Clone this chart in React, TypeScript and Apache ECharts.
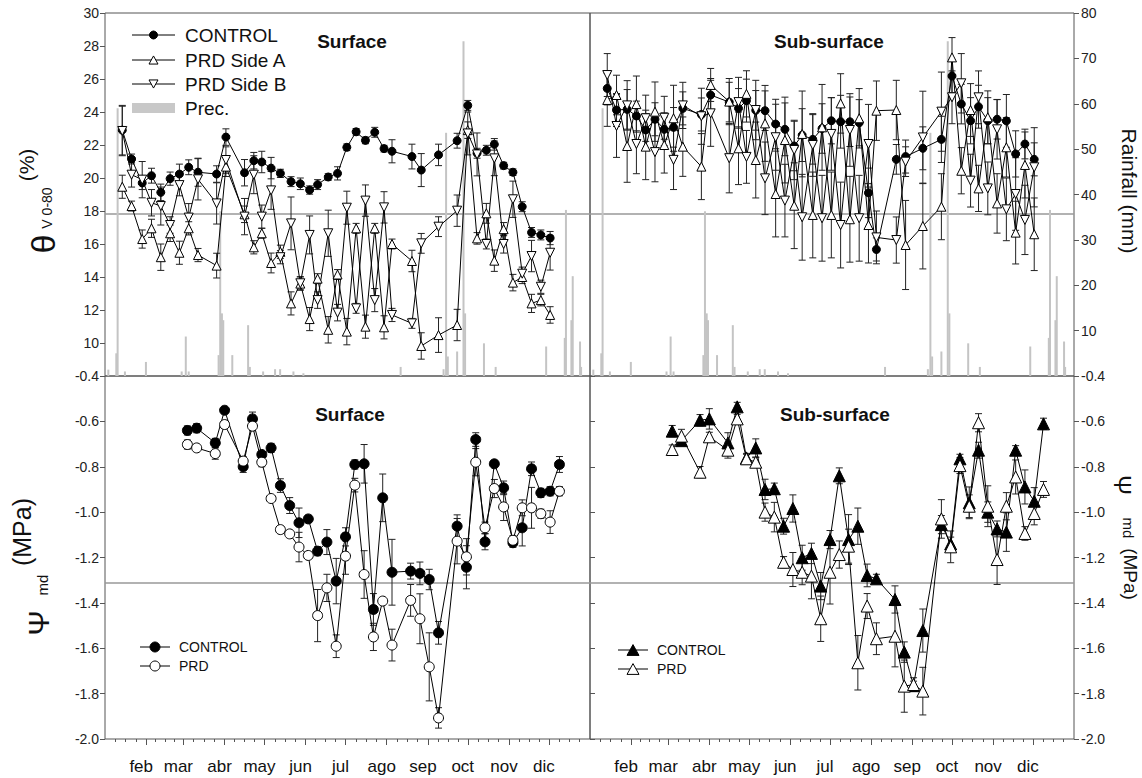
import React, { useEffect, useRef } from 'react';
import * as echarts from 'echarts';

// Month axis (day of year)
const months = ['feb', 'mar', 'abr', 'may', 'jun', 'jul', 'ago', 'sep', 'oct', 'nov', 'dic'];
const monthStarts = [31, 59, 90, 120, 151, 181, 212, 243, 273, 304, 334];

// Soil water content sampling dates (day of year)
const soilDays = [13, 20, 28, 35, 42, 49, 56, 63, 70, 84, 91, 105, 112, 118, 125, 132, 140, 147, 154, 160, 168, 175, 182, 189, 196, 203, 210, 216, 231, 238, 251, 265, 273, 280, 287, 293, 300, 307, 314, 321, 328, 335];

// Surface θv 0-80 (%)
const surfControl = [22.9, 21.15, 19.7, 20.14, 19.13, 19.96, 20.24, 20.65, 20.35, 20.24, 22.48, 20.32, 21.05, 20.97, 20.6, 20.28, 19.78, 19.65, 19.27, 19.6, 20.06, 20.28, 21.86, 22.8, 22.28, 22.77, 21.78, 21.62, 21.3, 20.48, 21.4, 22.26, 24.4, 21.5, 21.68, 22.04, 20.75, 20.35, 18.26, 16.7, 16.55, 16.36];
const surfControlErr = [1.5, 0.3, 0.4, 0.45, 0.5, 0.4, 0.6, 0.45, 0.85, 0.5, 0.5, 0.8, 0.5, 0.65, 0.65, 0.25, 0.3, 0.35, 0.25, 0.3, 0.2, 0.4, 0.2, 0.2, 0.2, 0.3, 0.2, 0.7, 0.75, 1.0, 0.65, 0.45, 0.3, 0.3, 0.3, 0.35, 0.2, 0.2, 0.3, 0.3, 0.3, 0.4];
const surfSideA = [19.47, 18.3, 16.3, 16.95, 15.2, 16.65, 15.47, 16.95, 15.33, 14.69, 20.69, 17.8, 15.8, 16.65, 14.85, 15.53, 12.4, 13.6, 11.45, 13.9, 10.8, 14.15, 10.69, 16.95, 10.99, 16.95, 10.95, 16.0, 14.97, 9.82, 10.48, 11.09, 22.9, 16.34, 17.86, 14.99, 16.9, 13.66, 14.0, 12.4, 12.6, 11.7];
const surfSideAErr = [0.7, 0.3, 0.55, 0.55, 0.8, 0.5, 0.7, 0.4, 0.4, 0.75, 0.6, 0.5, 0.4, 0.3, 0.6, 0.4, 0.7, 0.4, 0.7, 0.3, 0.8, 0.3, 0.8, 0.3, 0.7, 0.3, 0.7, 0.3, 0.65, 0.8, 1.05, 0.95, 0.5, 0.35, 0.6, 0.65, 0.4, 0.5, 0.4, 0.55, 0.35, 0.5];
const surfSideB = [22.85, 20.2, 19.9, 18.5, 18.3, 17.15, 19.57, 17.6, 19.92, 18.46, 21.09, 17.66, 20.2, 17.66, 19.25, 15.2, 17.25, 13.62, 16.55, 12.6, 16.65, 11.84, 18.2, 12.1, 18.63, 12.6, 18.22, 11.7, 11.19, 16.04, 17.05, 18.02, 22.7, 21.43, 16.0, 21.19, 16.0, 18.71, 14.2, 15.27, 13.41, 15.47];
const surfSideBErr = [1.5, 0.75, 1.1, 0.8, 1.15, 0.5, 0.65, 0.85, 1.25, 1.25, 0.8, 1.1, 1.15, 0.7, 1.15, 0.4, 1.6, 0.4, 1.15, 0.5, 1.4, 0.5, 1.0, 0.3, 0.95, 0.7, 0.95, 0.4, 0.3, 0.6, 0.6, 0.95, 1.3, 1.3, 0.3, 1.05, 0.55, 1.1, 0.4, 0.95, 0.4, 1.05];

// Sub-surface θv 0-80 (%)
const subControl = [25.43, 24.12, 24.16, 23.76, 22.91, 23.56, 22.95, 23.07, 24.22, 23.85, 25.03, 24.6, 24.22, 24.69, 24.1, 24.08, 23.27, 22.95, 21.94, 22.6, 22.34, 23.0, 23.47, 23.41, 23.41, 23.35, 19.1, 15.67, 21.13, 21.3, 21.8, 22.34, 26.18, 24.48, 23.47, 24.32, 23.47, 23.56, 23.46, 21.46, 22.06, 21.13];
const subControlErr = [1.0, 1.0, 1.2, 0.9, 1.2, 1.0, 1.0, 1.2, 1.0, 1.0, 1.0, 1.2, 1.2, 1.3, 1.2, 1.2, 1.5, 1.6, 1.5, 1.6, 1.5, 1.5, 1.4, 1.6, 1.5, 1.4, 1.5, 0.7, 0.9, 1.0, 1.3, 1.4, 1.0, 1.2, 1.4, 1.3, 1.4, 1.2, 1.6, 1.4, 0.9, 1.0];
const subSideA = [24.73, 25.03, 21.94, 24.48, 21.9, 24.02, 22.0, 23.62, 21.9, 20.69, 25.64, 24.63, 21.8, 25.1, 21.09, 23.31, 19.03, 22.3, 18.32, 22.67, 17.76, 23.07, 17.76, 24.52, 17.5, 23.62, 17.15, 24.08, 24.12, 15.94, 17.09, 18.26, 27.31, 20.44, 24.12, 19.37, 23.68, 18.46, 21.86, 16.69, 20.79, 16.59];
const subSideAErr = [1.6, 1.2, 2.2, 1.7, 2.0, 1.8, 1.7, 2.0, 1.8, 2.0, 1.0, 1.4, 2.2, 1.4, 2.3, 2.3, 2.6, 2.6, 2.6, 2.6, 2.6, 2.6, 2.6, 1.8, 2.6, 1.8, 2.3, 1.8, 1.8, 2.7, 2.6, 2.0, 1.2, 1.4, 1.6, 1.4, 1.6, 1.8, 1.8, 1.9, 2.0, 2.2];
const subSideB = [26.24, 23.15, 24.4, 22.06, 23.62, 21.57, 23.65, 21.1, 24.4, 23.74, 23.92, 21.2, 24.6, 21.28, 24.12, 19.98, 22.47, 18.63, 21.7, 17.62, 22.0, 17.56, 22.67, 17.15, 22.91, 17.56, 22.06, 16.4, 16.24, 20.99, 22.46, 24.02, 24.89, 25.74, 19.84, 24.89, 19.37, 22.95, 18.1, 19.03, 17.46, 20.65];
const subSideBErr = [1.3, 1.9, 1.5, 1.8, 1.4, 1.8, 1.3, 1.8, 1.4, 1.7, 2.0, 2.1, 1.5, 1.6, 1.8, 2.2, 2.0, 2.2, 1.8, 2.6, 1.9, 2.6, 2.2, 2.6, 2.2, 2.6, 2.4, 1.6, 1.4, 0.9, 2.8, 2.4, 1.6, 1.8, 1.6, 1.6, 1.6, 1.8, 1.9, 2.2, 2.1, 2.4];

// Daily rainfall (mm)
const rainDays = [2.5, 8.5, 9.5, 15, 30.8, 57.7, 60.8, 63, 85.5, 86.7, 88, 89, 95.8, 107.7, 109, 119, 128, 131.8, 141.8, 149.3, 222.5, 254.8, 256.7, 258, 265, 269.8, 271, 285.2, 294, 332, 346, 346.9, 351, 352, 357.5, 358.3];
const rainMm = [1.4, 5, 59, 1, 3.1, 1, 8.7, 1, 4.6, 36.3, 13.8, 12.3, 4.6, 11.2, 2, 1, 1.5, 1.5, 1, 0.6, 2, 1.5, 53.6, 4.3, 5.4, 73.8, 13.8, 7.2, 2, 6.5, 8.4, 36.6, 12.3, 22, 7.6, 2];

// Midday stem water potential sampling dates (day of year)
const psiDays = [62, 69, 83, 90, 104, 111, 118, 125, 132, 139, 146, 153, 160, 167, 174, 181, 188, 195, 202, 209, 216, 230, 237, 244, 251, 265, 272, 279, 286, 293, 300, 307, 314, 321, 328, 335, 342];

// Ψmd (MPa), surface
const psiSurfControl = [-0.640, -0.630, -0.695, -0.551, -0.800, -0.589, -0.746, -0.717, -0.883, -0.971, -1.047, -1.03, -1.172, -1.132, -1.304, -1.109, -0.790, -0.787, -1.429, -0.937, -1.265, -1.26, -1.27, -1.297, -1.532, -1.062, -1.243, -0.680, -1.131, -0.787, -0.893, -1.135, -1.069, -0.809, -0.915, -0.908, -0.790];
const psiSurfControlErr = [0.02, 0.02, 0.02, 0.01, 0.025, 0.03, 0.01, 0.02, 0.03, 0.035, 0.065, 0.01, 0.02, 0.055, 0.1, 0.04, 0.02, 0.085, 0.07, 0.105, 0.145, 0.035, 0.05, 0.045, 0.05, 0.05, 0.095, 0.03, 0.035, 0.01, 0.03, 0.02, 0.08, 0.03, 0.02, 0.02, 0.035];
const psiSurfPrd = [-0.702, -0.717, -0.742, -0.614, -0.775, -0.621, -0.780, -0.940, -1.077, -1.096, -1.154, -1.191, -1.456, -1.334, -1.591, -1.194, -0.881, -1.275, -1.550, -1.392, -1.586, -1.389, -1.47, -1.682, -1.907, -1.128, -1.197, -0.780, -1.069, -0.896, -0.977, -1.124, -0.981, -0.981, -1.007, -1.044, -0.908];
const psiSurfPrdErr = [0.02, 0.01, 0.025, 0.01, 0.02, 0.02, 0.02, 0.01, 0.01, 0.01, 0.065, 0.01, 0.115, 0.06, 0.05, 0.08, 0.03, 0.105, 0.06, 0.01, 0.07, 0.07, 0.11, 0.15, 0.045, 0.1, 0.08, 0.06, 0.025, 0.04, 0.06, 0.02, 0.035, 0.09, 0.02, 0.05, 0.02];

// Ψmd (MPa), sub-surface
const psiSubControl = [-0.643, -0.685, -0.595, -0.589, -0.695, -0.536, -0.761, -0.717, -0.900, -0.897, -1.062, -0.984, -1.201, -1.182, -1.326, -1.121, -0.840, -1.121, -1.062, -1.279, -1.294, -1.385, -1.617, -1.765, -1.522, -1.055, -1.14, -0.765, -0.959, -0.727, -1.0, -1.074, -1.088, -0.727, -0.889, -0.952, -0.611];
const psiSubControlErr = [0.025, 0.015, 0.025, 0.045, 0.045, 0.02, 0.02, 0.04, 0.045, 0.025, 0.035, 0.06, 0.055, 0.045, 0.06, 0.04, 0.035, 0.11, 0.08, 0.05, 0.02, 0.06, 0.045, 0.02, 0.095, 0.04, 0.03, 0.02, 0.07, 0.035, 0.045, 0.035, 0.085, 0.02, 0.075, 0.06, 0.025];
const psiSubPrd = [-0.724, -0.665, -0.824, -0.668, -0.727, -0.589, -0.765, -0.780, -1.0, -1.022, -1.221, -1.253, -1.265, -1.282, -1.47, -1.265, -1.187, -1.15, -1.664, -1.414, -1.558, -1.547, -1.767, -1.76, -1.789, -1.03, -1.153, -0.795, -0.974, -0.606, -0.974, -1.209, -0.974, -0.845, -1.094, -1.006, -0.9];
const psiSubPrdErr = [0.02, 0.03, 0.025, 0.02, 0.035, 0.02, 0.02, 0.02, 0.04, 0.065, 0.025, 0.075, 0.055, 0.1, 0.1, 0.14, 0.06, 0.075, 0.12, 0.055, 0.07, 0.135, 0.115, 0.03, 0.105, 0.085, 0.07, 0.035, 0.05, 0.04, 0.09, 0.11, 0.06, 0.075, 0.03, 0.05, 0.035];

// Horizontal reference levels
const THETA_REF = 17.85;
const PSI_REF = -1.31;

const FONT = '"Liberation Sans", Arial, sans-serif';
const AXIS_COLOR = '#555';

// quarter-month minor ticks
const monthBounds = [0, ...monthStarts, 365];
const minorTicks: number[] = [];
for (let i = 0; i < monthBounds.length - 1; i++) {
  const a = monthBounds[i];
  const b = monthBounds[i + 1];
  for (let k = 1; k < 4; k++) minorTicks.push(a + ((b - a) * k) / 4);
}

function lineSeries(name: string, days: number[], vals: number[], xi: number, yi: number, symbol: string, size: number, filled: boolean, rotate = 0, markValue?: number) {
  const s: any = {
    type: 'line',
    name,
    xAxisIndex: xi,
    yAxisIndex: yi,
    data: days.map((d, i) => [d, vals[i]]),
    symbol,
    symbolSize: size,
    symbolRotate: rotate,
    showSymbol: true,
    lineStyle: { color: '#000', width: 1 },
    itemStyle: { color: filled ? '#000' : '#fff', borderColor: '#000', borderWidth: 1 },
    z: 3,
    silent: true,
  };
  if (markValue !== undefined) {
    s.markLine = {
      silent: true,
      symbol: 'none',
      label: { show: false },
      lineStyle: { color: '#999', width: 1.5, type: 'solid' },
      data: [{ yAxis: markValue }],
      z: 1,
    };
  }
  return s;
}

function errorBars(days: number[], vals: number[], errs: number[], xi: number, yi: number) {
  return {
    type: 'custom',
    xAxisIndex: xi,
    yAxisIndex: yi,
    silent: true,
    z: 2,
    data: days.map((d, i) => [d, vals[i] - errs[i], vals[i] + errs[i]]),
    encode: { x: 0, y: [1, 2] },
    renderItem: (_params: any, api: any) => {
      const x = api.value(0);
      const lo = api.coord([x, api.value(1)]);
      const hi = api.coord([x, api.value(2)]);
      const w = 3.5;
      const style = { stroke: '#222', lineWidth: 1 };
      return {
        type: 'group',
        children: [
          { type: 'line', shape: { x1: lo[0], y1: lo[1], x2: hi[0], y2: hi[1] }, style },
          { type: 'line', shape: { x1: lo[0] - w, y1: lo[1], x2: lo[0] + w, y2: lo[1] }, style },
          { type: 'line', shape: { x1: hi[0] - w, y1: hi[1], x2: hi[0] + w, y2: hi[1] }, style },
        ],
      };
    },
  };
}

function rainSeries(xi: number, yi: number) {
  return {
    type: 'bar',
    xAxisIndex: xi,
    yAxisIndex: yi,
    data: rainDays.map((d, i) => [d, rainMm[i]]),
    barWidth: 2,
    itemStyle: { color: '#c4c4c4' },
    silent: true,
    z: 1,
  };
}

const hiddenX = (gridIndex: number) => ({
  type: 'value', gridIndex, min: 0, max: 365,
  splitLine: { show: false },
  axisLine: { show: false, onZero: false },
  axisTick: { show: false },
  axisLabel: { show: false },
});

const monthX = (gridIndex: number) => ({
  type: 'value', gridIndex, min: 0, max: 365, position: 'bottom',
  splitLine: { show: false },
  axisLine: { show: false, onZero: false },
  axisTick: { show: true, customValues: monthStarts, length: 6, lineStyle: { color: AXIS_COLOR } },
  axisLabel: {
    show: true,
    customValues: monthStarts,
    formatter: (v: number) => months[monthStarts.indexOf(v)] ?? '',
    fontSize: 17, fontFamily: FONT, color: '#111', margin: 19, padding: [0, 10, 0, 0],
  },
});

const minorX = (gridIndex: number) => ({
  type: 'value', gridIndex, min: 0, max: 365, position: 'bottom',
  splitLine: { show: false },
  axisLine: { show: false, onZero: false },
  axisTick: { show: true, customValues: minorTicks, length: 3, lineStyle: { color: AXIS_COLOR } },
  axisLabel: { show: false },
});

const yLabel = { fontSize: 14, fontFamily: FONT, color: '#222' };

function txt(text: string, x: number, y: number, size: number, opts: any = {}) {
  return {
    type: 'text', x, y, z: 20, rotation: opts.rotation ?? 0,
    style: {
      text, fontSize: size, fontFamily: FONT, fontWeight: opts.bold ? 'bold' : 'normal',
      fill: '#111', align: opts.align ?? 'center', verticalAlign: 'middle',
    },
  };
}

function legendLine(x1: number, x2: number, y: number) {
  return { type: 'line', z: 20, shape: { x1, y1: y, x2, y2: y }, style: { stroke: '#000', lineWidth: 1 } };
}

function tri(cx: number, cy: number, s: number, up: boolean, filled: boolean) {
  const h = s * 0.9;
  const pts = up
    ? [[cx, cy - h / 2], [cx - s / 2, cy + h / 2], [cx + s / 2, cy + h / 2]]
    : [[cx - s / 2, cy - h / 2], [cx + s / 2, cy - h / 2], [cx, cy + h / 2]];
  return { type: 'polygon', z: 21, shape: { points: pts }, style: { fill: filled ? '#000' : '#fff', stroke: '#000', lineWidth: 1 } };
}

function dot(cx: number, cy: number, r: number, filled: boolean) {
  return { type: 'circle', z: 21, shape: { cx, cy, r }, style: { fill: filled ? '#000' : '#fff', stroke: '#000', lineWidth: 1 } };
}

function buildOption(): any {
  const gridBase = { show: true, borderColor: AXIS_COLOR, borderWidth: 1, backgroundColor: 'transparent', containLabel: false };
  const R = -Math.PI / 2;
  const L = Math.PI / 2;
  return {
    animation: false,
    backgroundColor: '#fff',
    grid: [
      { ...gridBase, left: 105, top: 13, width: 485, height: 363 },
      { ...gridBase, left: 590, top: 13, width: 484, height: 363 },
      { ...gridBase, left: 105, top: 376, width: 485, height: 363 },
      { ...gridBase, left: 590, top: 376, width: 484, height: 363 },
    ],
    xAxis: [hiddenX(0), hiddenX(1), monthX(2), monthX(3), minorX(2), minorX(3)],
    yAxis: [
      {
        type: 'value', gridIndex: 0, min: 8, max: 30, interval: 2, position: 'left',
        splitLine: { show: false }, axisLine: { show: false, onZero: false },
        axisTick: { show: true, length: 5, lineStyle: { color: AXIS_COLOR } },
        axisLabel: { ...yLabel, margin: 6, formatter: (v: number) => (v === 8 ? '' : String(v)) },
      },
      { type: 'value', gridIndex: 0, min: 0, max: 80, position: 'right', show: false, axisLine: { onZero: false } },
      { type: 'value', gridIndex: 1, min: 8, max: 30, position: 'left', show: false, axisLine: { onZero: false } },
      {
        type: 'value', gridIndex: 1, min: 0, max: 80, interval: 10, position: 'right',
        splitLine: { show: false }, axisLine: { show: false, onZero: false },
        axisTick: { show: true, length: 5, lineStyle: { color: AXIS_COLOR } },
        axisLabel: { ...yLabel, margin: 7, formatter: (v: number) => (v === 0 ? '' : String(v)) },
      },
      {
        type: 'value', gridIndex: 2, min: -2, max: -0.4, interval: 0.2, position: 'left',
        splitLine: { show: false }, axisLine: { show: false, onZero: false },
        axisTick: { show: true, length: 5, lineStyle: { color: AXIS_COLOR } },
        axisLabel: { ...yLabel, margin: 6, formatter: (v: number) => v.toFixed(1) },
      },
      {
        type: 'value', gridIndex: 3, min: -2, max: -0.4, interval: 0.2, position: 'left',
        splitLine: { show: false }, axisLine: { show: false, onZero: false },
        axisTick: { show: true, inside: true, length: 5, lineStyle: { color: AXIS_COLOR } },
        axisLabel: { show: false },
      },
      {
        type: 'value', gridIndex: 3, min: -2, max: -0.4, interval: 0.2, position: 'right',
        splitLine: { show: false }, axisLine: { show: false, onZero: false },
        axisTick: { show: true, length: 5, lineStyle: { color: AXIS_COLOR } },
        axisLabel: { ...yLabel, margin: 7, formatter: (v: number) => v.toFixed(1) },
      },
    ],
    series: [
      // rainfall
      rainSeries(0, 1),
      rainSeries(1, 3),
      // surface soil water
      errorBars(soilDays, surfControl, surfControlErr, 0, 0),
      errorBars(soilDays, surfSideA, surfSideAErr, 0, 0),
      errorBars(soilDays, surfSideB, surfSideBErr, 0, 0),
      lineSeries('CONTROL', soilDays, surfControl, 0, 0, 'circle', 8, true, 0, THETA_REF),
      lineSeries('PRD Side A', soilDays, surfSideA, 0, 0, 'triangle', 9, false),
      lineSeries('PRD Side B', soilDays, surfSideB, 0, 0, 'triangle', 9, false, 180),
      // sub-surface soil water
      errorBars(soilDays, subControl, subControlErr, 1, 2),
      errorBars(soilDays, subSideA, subSideAErr, 1, 2),
      errorBars(soilDays, subSideB, subSideBErr, 1, 2),
      lineSeries('CONTROL', soilDays, subControl, 1, 2, 'circle', 8, true, 0, THETA_REF),
      lineSeries('PRD Side A', soilDays, subSideA, 1, 2, 'triangle', 9, false),
      lineSeries('PRD Side B', soilDays, subSideB, 1, 2, 'triangle', 9, false, 180),
      // surface Ψmd
      errorBars(psiDays, psiSurfControl, psiSurfControlErr, 2, 4),
      errorBars(psiDays, psiSurfPrd, psiSurfPrdErr, 2, 4),
      lineSeries('CONTROL', psiDays, psiSurfControl, 2, 4, 'circle', 10, true, 0, PSI_REF),
      lineSeries('PRD', psiDays, psiSurfPrd, 2, 4, 'circle', 10, false),
      // sub-surface Ψmd
      errorBars(psiDays, psiSubControl, psiSubControlErr, 3, 6),
      errorBars(psiDays, psiSubPrd, psiSubPrdErr, 3, 6),
      lineSeries('CONTROL', psiDays, psiSubControl, 3, 6, 'triangle', 12, true, 0, PSI_REF),
      lineSeries('PRD', psiDays, psiSubPrd, 3, 6, 'triangle', 12, false),
    ],
    graphic: [
      // panel titles
      txt('Surface', 352, 41, 19, { bold: true }),
      txt('Sub-surface', 829, 41, 19, { bold: true }),
      txt('Surface', 350, 414, 19, { bold: true }),
      txt('Sub-surface', 835, 414, 19, { bold: true }),
      // top legend
      legendLine(132, 175, 35), dot(153.5, 35, 4, true), txt('CONTROL', 185, 35, 19, { align: 'left' }),
      legendLine(132, 175, 60), tri(153.5, 60, 9, true, false), txt('PRD Side A', 185, 60, 19, { align: 'left' }),
      legendLine(132, 175, 84), tri(153.5, 84, 9, false, false), txt('PRD Side B', 185, 84, 19, { align: 'left' }),
      { type: 'rect', z: 20, shape: { x: 132, y: 103, width: 43, height: 10 }, style: { fill: '#c8c8c8' } },
      txt('Prec.', 185, 108, 19, { align: 'left' }),
      // bottom-left legend
      legendLine(140, 170, 647), dot(155, 647, 5, true), txt('CONTROL', 179, 647, 14, { align: 'left' }),
      legendLine(140, 170, 666), dot(155, 666, 5, false), txt('PRD', 179, 666, 14, { align: 'left' }),
      // bottom-right legend
      legendLine(618, 648, 650), tri(633, 650, 12, true, true), txt('CONTROL', 657, 650, 14, { align: 'left' }),
      legendLine(618, 648, 669), tri(633, 669, 12, true, false), txt('PRD', 657, 669, 14, { align: 'left' }),
      // left axis titles
      txt('θ', 43, 244, 34, { rotation: L }),
      txt('V 0-80', 47, 208, 14, { rotation: L }),
      txt('(%)', 26, 165, 21, { rotation: L }),
      txt('Ψ', 38, 623, 30, { rotation: L }),
      txt('md', 42, 585, 15, { rotation: L }),
      txt('(MPa)', 22, 532, 25, { rotation: L }),
      // right axis titles
      txt('Rainfall (mm)', 1129, 191, 21, { rotation: R }),
      txt('Ψ', 1122, 485, 24, { rotation: R }),
      txt('md', 1128, 528, 15, { rotation: R }),
      txt('(MPa)', 1130, 574, 19, { rotation: R }),
    ],
  };
}

export default function App() {
  const ref = useRef<HTMLDivElement>(null);
  useEffect(() => {
    document.body.style.margin = '0';
    const chart = echarts.init(ref.current!, null, { renderer: 'svg' });
    chart.setOption(buildOption());
    return () => chart.dispose();
  }, []);
  return <div ref={ref} style={{ width: 1142, height: 778, background: '#fff' }} />;
}
